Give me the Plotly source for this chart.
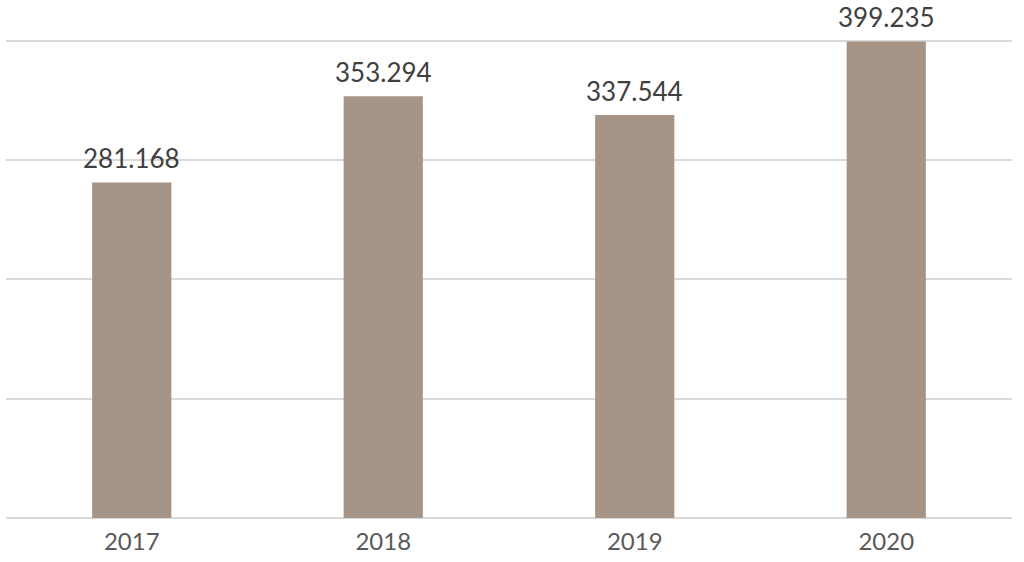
import plotly.graph_objects as go

years = ["2017", "2018", "2019", "2020"]
values = [281.168, 353.294, 337.544, 399.235]
labels = ["281.168", "353.294", "337.544", "399.235"]

fig = go.Figure(go.Bar(
    x=years, y=values,
    marker=dict(color="#A69586", line=dict(width=0)),
    hoverinfo="skip",
))
for i, (v, lab) in enumerate(zip(values, labels)):
    fig.add_annotation(x=i, y=v, text=lab, showarrow=False, yanchor="bottom",
                       yshift=6, font=dict(family="Lato", size=26, color="#404040"))
fig.update_layout(
    width=1024, height=562,
    margin=dict(l=6, r=12, t=37, b=44, autoexpand=False),
    paper_bgcolor="white", plot_bgcolor="white",
    bargap=0.685, showlegend=False,
    xaxis=dict(type="category", categoryorder="array", categoryarray=years,
               range=[-0.5, len(years) - 0.5],
               showgrid=False, showline=False, ticks="",
               ticklabelstandoff=7,
               tickfont=dict(family="Lato", size=24, color="#595959")),
    yaxis=dict(range=[0, 403], tickvals=[0, 100, 200, 300, 400], showticklabels=False,
               showgrid=True, gridcolor="#D9D9D9", gridwidth=2,
               zeroline=True, zerolinecolor="#D9D9D9", zerolinewidth=2),
)
fig.write_html("out.html", config={"displayModeBar": False},
               post_script="document.body.style.margin='0';document.body.style.overflow='hidden';")
